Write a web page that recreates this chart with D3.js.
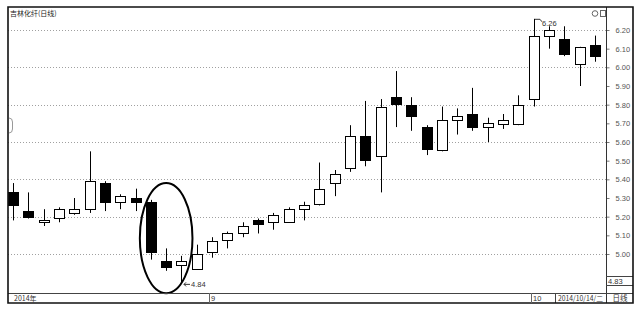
<!DOCTYPE html>
<html>
<head>
<meta charset="utf-8">
<script src="https://cdn.jsdelivr.net/npm/d3@7"></script>
<style>
  body { margin: 0; background: #fff; }
  svg text { font-family: "Liberation Sans", "Noto Sans CJK SC", sans-serif; }
  .cjk { font-family: "Noto Sans CJK SC", sans-serif; }
</style>
</head>
<body>
<svg id="chart"></svg>
<script>
// daily bars, 吉林化纤, 2014-08-13 .. 2014-10-14
const dates = [
  "2014-08-13", "2014-08-14", "2014-08-15", "2014-08-18", "2014-08-19", "2014-08-20",
  "2014-08-21", "2014-08-22", "2014-08-25", "2014-08-26", "2014-08-27", "2014-08-28",
  "2014-08-29", "2014-09-01", "2014-09-02", "2014-09-03", "2014-09-04", "2014-09-05",
  "2014-09-09", "2014-09-10", "2014-09-11", "2014-09-12", "2014-09-15", "2014-09-16",
  "2014-09-17", "2014-09-18", "2014-09-19", "2014-09-22", "2014-09-23", "2014-09-24",
  "2014-09-25", "2014-09-26", "2014-09-29", "2014-09-30", "2014-10-08", "2014-10-09",
  "2014-10-10", "2014-10-13", "2014-10-14"
];
const openPrices = [
  5.33, 5.23, 5.17, 5.19, 5.22, 5.24, 5.38, 5.28, 5.30, 5.28, 4.96, 4.94, 4.92,
  5.01, 5.07, 5.11, 5.18, 5.17, 5.17, 5.24, 5.27, 5.38, 5.46, 5.63, 5.53, 5.84,
  5.80, 5.68, 5.56, 5.72, 5.75, 5.68, 5.70, 5.70, 5.83, 6.17, 6.15, 6.02, 6.12
];
const highPrices = [
  5.38, 5.33, 5.24, 5.25, 5.30, 5.55, 5.39, 5.32, 5.35, 5.29, 5.03, 4.99, 5.05,
  5.09, 5.12, 5.17, 5.19, 5.22, 5.25, 5.28, 5.49, 5.45, 5.69, 5.82, 5.83, 5.98,
  5.84, 5.69, 5.79, 5.78, 5.89, 5.73, 5.75, 5.85, 6.26, 6.22, 6.22, 6.11, 6.17
];
const lowPrices = [
  5.18, 5.19, 5.15, 5.17, 5.21, 5.22, 5.23, 5.24, 5.23, 4.97, 4.91, 4.84, 4.92,
  4.98, 5.03, 5.09, 5.11, 5.13, 5.17, 5.18, 5.26, 5.31, 5.44, 5.47, 5.33, 5.68,
  5.66, 5.53, 5.55, 5.64, 5.66, 5.60, 5.67, 5.69, 5.79, 6.10, 6.06, 5.90, 6.03
];
const closePrices = [
  5.26, 5.20, 5.18, 5.24, 5.24, 5.39, 5.28, 5.31, 5.28, 5.01, 4.93, 4.96, 5.00,
  5.07, 5.11, 5.15, 5.16, 5.21, 5.24, 5.26, 5.35, 5.43, 5.63, 5.50, 5.79, 5.80,
  5.74, 5.56, 5.72, 5.74, 5.68, 5.70, 5.72, 5.80, 6.17, 6.20, 6.07, 6.11, 6.06
];
const gridValues = [5.0, 5.2, 5.4, 5.6, 5.8, 6.0, 6.2];
const tickValues = [5.0, 5.1, 5.2, 5.3, 5.4, 5.5, 5.6, 5.7, 5.8, 5.9, 6.0, 6.1, 6.2];
const title = "吉林化纤(日线)";
const lastPrice = 4.83;
// hand-drawn ring round the three bars of the drop
const ringFrom = 9, ringTo = 11, ringHigh = 5.38, ringLow = 4.79;

const W = 640, H = 309;
const frame = {left: 8, top: 7, right: 633, bottom: 303, axis: 606, labelRow: 293};

const svg = d3.select('#chart').attr('width', W).attr('height', H);
svg.append('rect').attr('width', W).attr('height', H).attr('fill', '#fff');

const data = dates.map((d, i) => ({
  date: d, open: openPrices[i], high: highPrices[i], low: lowPrices[i], close: closePrices[i]
}));

// scales
const x = d3.scalePoint().domain(dates).range([14, 596]);
const y = d3.scaleLinear().domain([5.0, 6.2]).range([254, 30]);
const px = v => Math.round(v) + 0.5;

// grid
svg.append('g').selectAll('line')
  .data(gridValues)
  .join('line')
    .attr('x1', frame.left).attr('x2', frame.axis)
    .attr('y1', d => px(y(d))).attr('y2', d => px(y(d)))
    .attr('stroke', '#a0a0a0')
    .attr('stroke-dasharray', '1,2');

// right axis
const yAxis = d3.axisRight(y)
  .tickValues(tickValues)
  .tickSize(3)
  .tickPadding(6)
  .tickFormat(d3.format('.2f'));
const yAxisG = svg.append('g')
  .attr('transform', `translate(${frame.axis + 0.5},0)`)
  .call(yAxis);
yAxisG.select('.domain').remove();
yAxisG.selectAll('line').attr('stroke', '#777');
yAxisG.selectAll('text').attr('font-size', 7.5).attr('fill', '#555');

// candles
const candles = svg.append('g').selectAll('g')
  .data(data)
  .join('g');

candles.append('line')
  .attr('x1', d => Math.round(x(d.date)) - 0.5)
  .attr('x2', d => Math.round(x(d.date)) - 0.5)
  .attr('y1', d => y(d.high))
  .attr('y2', d => y(d.low))
  .attr('stroke', '#000');

candles.append('rect')
  .attr('x', d => Math.round(x(d.date)) - 5.5)
  .attr('width', 10)
  .attr('y', d => px(y(Math.max(d.open, d.close))))
  .attr('height', d => Math.max(1, Math.round(Math.abs(y(d.open) - y(d.close)))))
  .attr('fill', d => d.close >= d.open ? '#fff' : '#000')
  .attr('stroke', '#000');

// high / low markers
const hi = data[d3.maxIndex(data, d => d.high)];
const lo = data[d3.minIndex(data, d => d.low)];
const hx = Math.round(x(hi.date)), hy = y(hi.high);
svg.append('path')
  .attr('d', `M${hx},${hy + 0.5}H${hx + 5}L${hx + 7},${hy + 3}`)
  .attr('fill', 'none').attr('stroke', '#333');
svg.append('text')
  .attr('x', hx + 7).attr('y', hy + 7)
  .attr('font-size', 7.5).attr('fill', '#333')
  .text(d3.format('.2f')(hi.high));

const lx = Math.round(x(lo.date)), ly = y(lo.low);
svg.append('path')
  .attr('d', `M${lx + 2},${ly + 0.5}H${lx + 8}M${lx + 4},${ly - 1.5}L${lx + 2},${ly + 0.5}L${lx + 4},${ly + 2.5}`)
  .attr('fill', 'none').attr('stroke', '#333');
svg.append('text')
  .attr('x', lx + 9).attr('y', ly + 3)
  .attr('font-size', 7.5).attr('fill', '#333')
  .text(d3.format('.2f')(lo.low));

// ring
const rx0 = x(dates[ringFrom]), rx1 = x(dates[ringTo]);
svg.append('ellipse')
  .attr('cx', (rx0 + rx1) / 2 - 1)
  .attr('cy', (y(ringHigh) + y(ringLow)) / 2)
  .attr('rx', (rx1 - rx0) / 2 + 11)
  .attr('ry', (y(ringLow) - y(ringHigh)) / 2)
  .attr('fill', 'none')
  .attr('stroke', '#000')
  .attr('stroke-width', 2);

// frame
const f = svg.append('g').attr('fill', 'none');
f.append('line').attr('x1', frame.axis + 0.5).attr('x2', frame.axis + 0.5)
  .attr('y1', frame.top).attr('y2', frame.bottom).attr('stroke', '#333');
f.append('line').attr('x1', frame.left).attr('x2', frame.right)
  .attr('y1', frame.labelRow + 0.5).attr('y2', frame.labelRow + 0.5).attr('stroke', '#444');
f.append('line').attr('x1', frame.axis).attr('x2', frame.right)
  .attr('y1', 276.5).attr('y2', 276.5).attr('stroke', '#444');
f.append('line').attr('x1', frame.axis).attr('x2', frame.right)
  .attr('y1', 285.5).attr('y2', 285.5).attr('stroke', '#444');
f.append('line').attr('x1', 555.5).attr('x2', 555.5)
  .attr('y1', frame.labelRow).attr('y2', frame.bottom).attr('stroke', '#444');
f.append('path')
  .attr('d', `M${frame.left},${frame.bottom}V${frame.top}H${frame.right}V${frame.bottom}Z`)
  .attr('stroke', '#111').attr('stroke-width', 1.6);
f.append('path')
  .attr('d', 'M9,118Q12.5,118 12.5,122V129Q12.5,133 9,133')
  .attr('stroke', '#999');

// top texts and icons
svg.append('text').attr('class', 'cjk')
  .attr('x', 10).attr('y', 16)
  .attr('font-size', 7).attr('fill', '#222')
  .text(title);
svg.append('circle').attr('cx', 595).attr('cy', 13.5).attr('r', 2.8)
  .attr('fill', 'none').attr('stroke', '#666');
svg.append('rect').attr('x', 600.5).attr('y', 10.5).attr('width', 5).attr('height', 6)
  .attr('fill', 'none').attr('stroke', '#666');

// last price box
svg.append('text')
  .attr('x', frame.axis + 2).attr('y', 284)
  .attr('font-size', 7.5).attr('fill', '#333')
  .text(d3.format('.2f')(lastPrice));

// bottom date row
const parse = d3.timeParse('%Y-%m-%d');
const monthStarts = dates.filter((d, i) => i > 0 && parse(d).getMonth() !== parse(dates[i - 1]).getMonth());
const row = svg.append('g');
row.append('text').attr('class', 'cjk')
  .attr('x', 14).attr('y', 301)
  .attr('font-size', 7).attr('fill', '#333')
  .text(parse(dates[0]).getFullYear() + '年');
monthStarts.forEach(d => {
  const mx = Math.round(x(d));
  row.append('line').attr('x1', mx - 3.5).attr('x2', mx - 3.5)
    .attr('y1', frame.labelRow).attr('y2', frame.bottom).attr('stroke', '#666');
  row.append('text')
    .attr('x', mx - 2).attr('y', 301)
    .attr('font-size', 7.5).attr('fill', '#333')
    .text(parse(d).getMonth() + 1);
});
const last = parse(dates[dates.length - 1]);
row.append('text').attr('class', 'cjk')
  .attr('x', 558).attr('y', 301)
  .attr('font-size', 7).attr('fill', '#333')
  .attr('textLength', 45).attr('lengthAdjust', 'spacingAndGlyphs')
  .text(d3.timeFormat('%Y/%m/%d/')(last) + '日一二三四五六'[last.getDay()]);
row.append('text').attr('class', 'cjk')
  .attr('x', 620).attr('y', 301).attr('text-anchor', 'middle')
  .attr('font-size', 7.5).attr('fill', '#333')
  .text('日线');
</script>
</body>
</html>
